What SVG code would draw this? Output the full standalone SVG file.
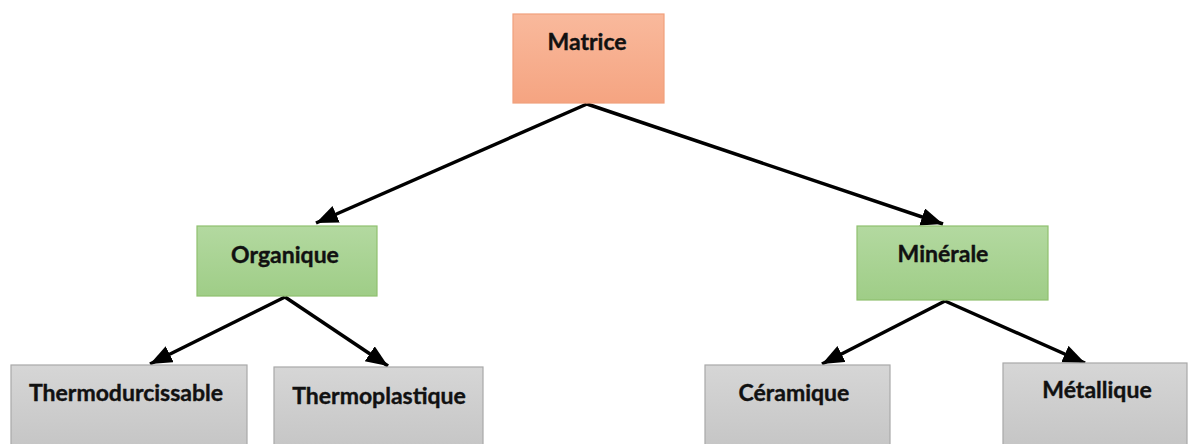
<svg xmlns="http://www.w3.org/2000/svg" width="1190" height="444" viewBox="0 0 1190 444">
<defs>
<style>
.lbl{font-family:Lato,"Open Sans","Liberation Sans",sans-serif;font-weight:bold;font-size:23px;fill:#111;text-anchor:middle;stroke:#111;stroke-width:0.4}
.orange{fill:url(#gO);stroke:#f0a07c;stroke-width:1.2}
.green{fill:url(#gG);stroke:#8fc06f;stroke-width:1.2}
.gray{fill:url(#gY);stroke:#a8a8a8;stroke-width:1.2}
.edge{stroke:#000;stroke-width:3.5;fill:none;marker-end:url(#ah)}
</style>
<linearGradient id="gO" x1="0" y1="0" x2="0" y2="1"><stop offset="0" stop-color="#f9b99c"/><stop offset="1" stop-color="#f5a481"/></linearGradient>
<linearGradient id="gG" x1="0" y1="0" x2="0" y2="1"><stop offset="0" stop-color="#b3d9a0"/><stop offset="1" stop-color="#9fcd87"/></linearGradient>
<linearGradient id="gY" x1="0" y1="0" x2="0" y2="1"><stop offset="0" stop-color="#d6d6d6"/><stop offset="1" stop-color="#c4c4c4"/></linearGradient>
<marker id="ah" markerUnits="userSpaceOnUse" markerWidth="24" markerHeight="20" refX="22" refY="9" orient="auto"><path d="M0,0 L22,9 L0,18 z" fill="#000"/></marker>
</defs>
<g id="connectors">
<line class="edge" x1="587" y1="104" x2="316" y2="223"/>
<line class="edge" x1="587" y1="104" x2="943" y2="224"/>
<line class="edge" x1="285" y1="297" x2="150" y2="364"/>
<line class="edge" x1="285" y1="297" x2="388" y2="366"/>
<line class="edge" x1="945" y1="301" x2="822" y2="364"/>
<line class="edge" x1="945" y1="301" x2="1085" y2="363"/>
</g>
<g id="matrice"><rect class="orange" x="513" y="14" width="151" height="89"/><text class="lbl" x="587" y="50">Matrice</text></g>
<g id="organique"><rect class="green" x="197" y="226" width="180" height="70"/><text class="lbl" x="285" y="263">Organique</text></g>
<g id="minerale"><rect class="green" x="857" y="226" width="191" height="74"/><text class="lbl" x="943" y="262">Minérale</text></g>
<g id="thermodurcissable"><rect class="gray" x="11" y="365" width="236" height="90"/><text class="lbl" x="126" y="401">Thermodurcissable</text></g>
<g id="thermoplastique"><rect class="gray" x="274" y="367" width="209" height="90"/><text class="lbl" x="379" y="404">Thermoplastique</text></g>
<g id="ceramique"><rect class="gray" x="705" y="365" width="185" height="90"/><text class="lbl" x="794" y="401">Céramique</text></g>
<g id="metallique"><rect class="gray" x="1003" y="363" width="184" height="90"/><text class="lbl" x="1097" y="398">Métallique</text></g>
</svg>
